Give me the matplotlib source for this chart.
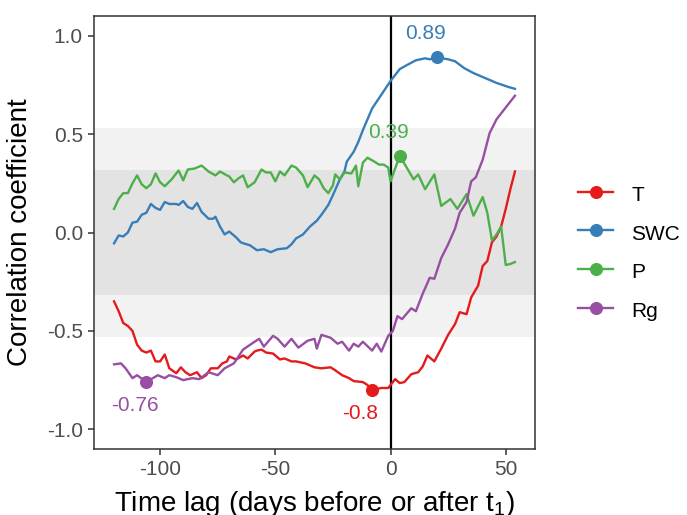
import numpy as np
import matplotlib
matplotlib.use('Agg')
import matplotlib.pyplot as plt
from matplotlib.lines import Line2D

plt.rcParams['font.family'] = ['Liberation Sans', 'DejaVu Sans']
plt.rcParams['mathtext.fontset'] = 'custom'
plt.rcParams['mathtext.rm'] = 'Liberation Sans'
plt.rcParams['axes.unicode_minus'] = False

# correlation vs time lag for each driver
t_lag = [-120, -118, -116, -114, -112, -110, -108, -106, -104, -102, -100, -98, -96, -93, -91,
         -89, -87, -84, -82, -80, -78, -75, -73, -71, -70, -67, -64, -62, -59, -58, -56, -54,
         -51, -48, -46, -43, -41, -37, -33, -30, -26, -24, -21, -18, -16, -12, -10, -8, -4,
         -1, 2, 4, 6, 9, 12, 14, 16, 19, 22, 25, 28, 30, 33, 35, 38, 40, 42, 44, 46, 48, 50,
         52, 54]
t_r = [-0.35, -0.40, -0.46, -0.475, -0.50, -0.57, -0.60, -0.61, -0.60, -0.655, -0.655, -0.62,
       -0.69, -0.715, -0.685, -0.71, -0.725, -0.71, -0.74, -0.725, -0.69, -0.69, -0.665, -0.655,
       -0.63, -0.645, -0.625, -0.64, -0.605, -0.60, -0.595, -0.61, -0.615, -0.645, -0.64,
       -0.655, -0.655, -0.665, -0.685, -0.69, -0.685, -0.70, -0.725, -0.74, -0.755, -0.76,
       -0.775, -0.80, -0.79, -0.79, -0.745, -0.765, -0.76, -0.72, -0.71, -0.68, -0.625, -0.655,
       -0.59, -0.52, -0.465, -0.405, -0.415, -0.33, -0.27, -0.17, -0.145, -0.05, -0.02, 0.03,
       0.12, 0.22, 0.31]

swc_lag = [-120, -118, -116, -114, -112, -110, -108, -106, -104, -102, -100, -98, -96, -93,
           -92, -90, -88, -86, -84, -82, -79, -77, -76, -74, -72, -70, -67, -65, -63, -61, -58,
           -55, -52, -49, -45, -43, -41, -38, -35, -32, -30, -27, -25, -22, -20, -19, -16, -14,
           -12, -8, -4, 0, 4, 7, 11, 15, 17, 20, 25, 28, 32, 36, 41, 46, 51, 54]
swc_r = [-0.055, -0.015, -0.02, 0.0, 0.05, 0.055, 0.09, 0.10, 0.145, 0.125, 0.115, 0.155, 0.145,
         0.145, 0.14, 0.16, 0.13, 0.12, 0.15, 0.105, 0.07, 0.07, 0.08, 0.03, -0.01, 0.005, -0.025,
         -0.05, -0.058, -0.065, -0.09, -0.085, -0.10, -0.085, -0.08, -0.06, -0.03, -0.01, 0.03,
         0.06, 0.09, 0.14, 0.19, 0.27, 0.31, 0.36, 0.41, 0.46, 0.52, 0.63, 0.70, 0.77, 0.83,
         0.85, 0.875, 0.885, 0.88, 0.89, 0.88, 0.87, 0.835, 0.81, 0.785, 0.76, 0.74, 0.73]

p_lag = [-120, -118, -116, -114, -112, -110, -108, -106, -104, -102, -100, -98, -95, -92, -90,
         -88, -85, -82, -79, -76, -74, -71, -70, -68, -66, -64, -62, -59, -56, -54, -52, -50,
         -48, -46, -43, -41, -38, -36, -33, -31, -29, -27, -25, -24, -22, -20, -17, -15, -14,
         -12, -10, -7, -5, -3, -1, 0, 4, 8, 10, 12, 15, 19, 22, 26, 29, 33, 36, 40, 42, 44, 46,
         48, 50, 52, 54]
p_r = [0.12, 0.17, 0.20, 0.20, 0.25, 0.29, 0.245, 0.225, 0.245, 0.30, 0.255, 0.235, 0.27, 0.315,
       0.265, 0.32, 0.325, 0.34, 0.31, 0.29, 0.31, 0.29, 0.285, 0.255, 0.275, 0.29, 0.23, 0.255,
       0.32, 0.305, 0.305, 0.26, 0.31, 0.29, 0.34, 0.33, 0.29, 0.23, 0.29, 0.27, 0.225, 0.20,
       0.24, 0.295, 0.27, 0.305, 0.30, 0.34, 0.235, 0.355, 0.38, 0.36, 0.345, 0.345, 0.33, 0.26,
       0.39, 0.31, 0.27, 0.295, 0.22, 0.295, 0.135, 0.17, 0.12, 0.195, 0.085, 0.18, 0.10, -0.04,
       -0.01, 0.03, -0.165, -0.16, -0.15]

rg_lag = [-120, -117, -115, -112, -110, -106, -101, -98, -96, -93, -90, -86, -83, -79, -75, -72,
          -68, -64, -59, -57, -55, -51, -49, -46, -43, -40, -36, -33, -32, -30, -26, -23, -21,
          -18, -16, -14, -12, -8, -6, -4, -1, 1, 3, 5, 9, 11, 14, 17, 19, 22, 25, 28, 30, 33, 35,
          37, 40, 43, 46, 51, 54]
rg_r = [-0.67, -0.665, -0.69, -0.74, -0.725, -0.76, -0.725, -0.74, -0.725, -0.735, -0.75, -0.74,
        -0.745, -0.71, -0.725, -0.69, -0.665, -0.595, -0.555, -0.54, -0.58, -0.525, -0.54, -0.58,
        -0.54, -0.585, -0.55, -0.54, -0.59, -0.52, -0.535, -0.565, -0.555, -0.60, -0.565, -0.58,
        -0.555, -0.60, -0.565, -0.605, -0.525, -0.50, -0.425, -0.44, -0.385, -0.40, -0.31, -0.23,
        -0.235, -0.13, -0.06, 0.02, 0.10, 0.155, 0.26, 0.28, 0.37, 0.505, 0.575, 0.65, 0.695]

names = ['T', 'SWC', 'P', 'Rg']
colors = ['#E41A1C', '#377EB8', '#4DAF4A', '#984EA3']
series = [(t_lag, t_r), (swc_lag, swc_r), (p_lag, p_r), (rg_lag, rg_r)]
label_at = ['min', 'max', 'max', 'min']

fig = plt.figure(figsize=(6.87, 5.15), dpi=100)
ax = fig.add_axes([94 / 687, 1 - 449 / 515, (535 - 94) / 687, (449 - 16) / 515])

# significance bands
ax.axhspan(-0.53, 0.53, color='#F2F2F2', lw=0, zorder=0)
ax.axhspan(-0.32, 0.32, color='#E3E3E3', lw=0, zorder=0)
ax.axvline(0, color='black', lw=1.6, zorder=1)

handles = []
for name, col, (x, y), which in zip(names, colors, series, label_at):
    x = np.array(x)
    y = np.array(y)
    ax.plot(x, y, color=col, lw=1.7, zorder=2)
    i = np.argmin(y) if which == 'min' else np.argmax(y)
    ax.plot(x[i], y[i], 'o', color=col, ms=8.4, zorder=3)
    txt = f'{y[i]:.2f}'.rstrip('0')
    dy = -0.12 if which == 'min' else 0.12
    ax.text(x[i] - 5, y[i] + dy, txt, color=col, fontsize=15, ha='center', va='center')
    handles.append(Line2D([], [], color=col, lw=1.7, marker='o', ms=8.4, label=name))

ax.set_xlim(-128.7, 62.7)
ax.set_ylim(-1.1, 1.1)
ax.set_xticks([-100, -50, 0, 50])
ax.set_yticks([-1.0, -0.5, 0.0, 0.5, 1.0])
ax.set_yticklabels(['-1.0', '-0.5', '0.0', '0.5', '1.0'])
ax.tick_params(axis='both', labelsize=15, labelcolor='#4D4D4D', color='#333333',
               length=4, width=1.1, pad=4)
for sp in ax.spines.values():
    sp.set_color('#333333')
    sp.set_linewidth(1.1)

ax.set_ylabel('Correlation coefficient', fontsize=20, labelpad=10)
ax.set_xlabel(r'Time lag (days before or after t$_\mathregular{1}$)', fontsize=20, labelpad=7)

fig.legend(handles=handles, loc='center left', bbox_to_anchor=(578 / 687, 1 - 252 / 515),
           frameon=False, fontsize=15, handlelength=1.7, handletextpad=0.85,
           handleheight=1.3, labelspacing=0.77, borderpad=0, borderaxespad=0)

fig.savefig('out.png', dpi=100)
